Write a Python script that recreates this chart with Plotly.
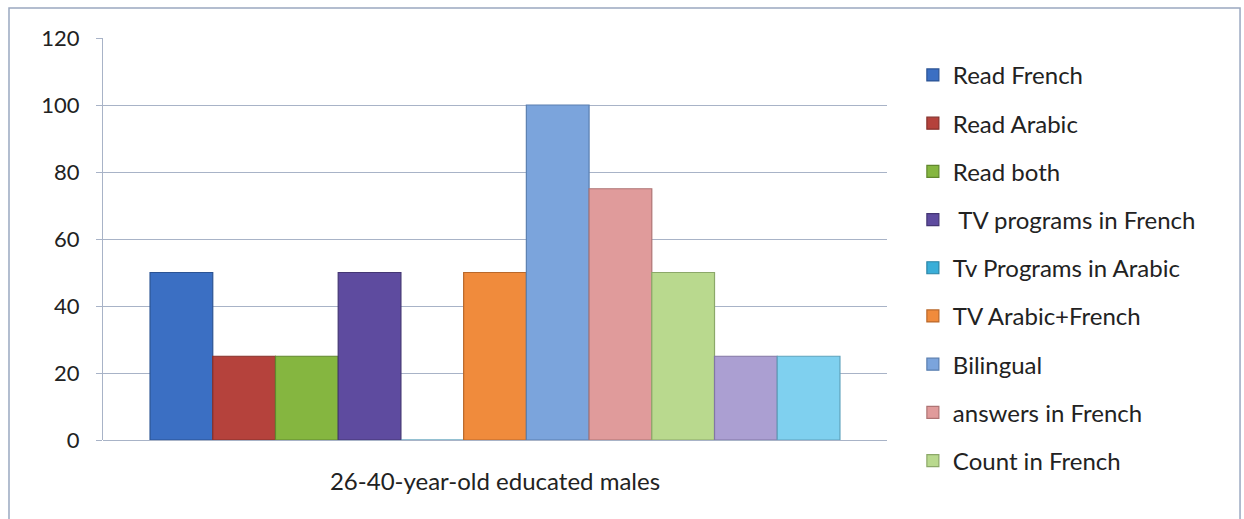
import plotly.graph_objects as go

# Survey group shown on the category axis
category = ["26-40-year-old educated males"]

# Series names (the last two are not listed in the legend)
series_names = [
    "Read French",
    "Read Arabic",
    "Read both",
    " TV programs in French",
    "Tv Programs in Arabic",
    "TV Arabic+French",
    "Bilingual",
    "answers in French",
    "Count in French",
    "Series 10",
    "Series 11",
]

# Percentages per series
series_values = [50, 25, 25, 50, 0, 50, 100, 75, 50, 25, 25]

series_colors = [
    "#3b6fc3", "#b5423c", "#85b640", "#5e4b9f", "#3aaed8", "#f08b3c",
    "#7ba4dc", "#e09b9b", "#b9d98e", "#ab9fd2", "#7fd0ef",
]
series_edges = [
    "#2b5394", "#86302b", "#61872e", "#443674", "#2a84a5", "#b9682a",
    "#5a7fb0", "#ae7474", "#8ca869", "#8277a4", "#5ea2bd",
]
in_legend = [True] * 9 + [False, False]

tick_values = [0, 20, 40, 60, 80, 100, 120]

FONT = "Lato"
TEXT = "#222222"
GRID = "#a8b3c7"

fig = go.Figure()
for name, val, col, edge, show in zip(series_names, series_values, series_colors,
                                      series_edges, in_legend):
    fig.add_trace(go.Bar(
        x=category, y=[val], name=name,
        marker=dict(color=col, line=dict(color=edge, width=1.2)),
        showlegend=show, legendgroup=name,
    ))

fig.update_layout(
    width=1244, height=519,
    margin=dict(l=103, r=357, t=38, b=79),
    paper_bgcolor="white", plot_bgcolor="white",
    barmode="group", bargap=0.12, bargroupgap=0,
    font=dict(family=FONT, size=24, color=TEXT),
    legend=dict(
        x=1.033, xanchor="left", y=0.963, yanchor="top",
        traceorder="grouped", tracegroupgap=14,
        font=dict(family=FONT, size=24, color=TEXT),
        bgcolor="rgba(0,0,0,0)", maxheight=600,
    ),
    xaxis=dict(
        showgrid=False, showline=False, ticks="",
        tickfont=dict(family=FONT, size=24, color=TEXT),
        ticklabelstandoff=25,
    ),
    yaxis=dict(
        range=[0, 120], tickvals=tick_values,
        showgrid=True, gridcolor=GRID, gridwidth=1,
        zeroline=True, zerolinecolor=GRID, zerolinewidth=1,
        showline=True, linecolor=GRID, linewidth=1,
        ticks="outside", ticklen=6, tickcolor=GRID,
        ticklabelstandoff=12,
        tickfont=dict(family=FONT, size=22, color=TEXT),
    ),
    shapes=[dict(
        type="rect", xref="paper", yref="paper",
        x0=-0.1199, x1=1.4503, y0=-0.21, y1=1.0746,
        line=dict(color="#9aa8c0", width=1.5), fillcolor="rgba(0,0,0,0)",
        layer="below",
    )],
)

fig.write_html("out.html")
